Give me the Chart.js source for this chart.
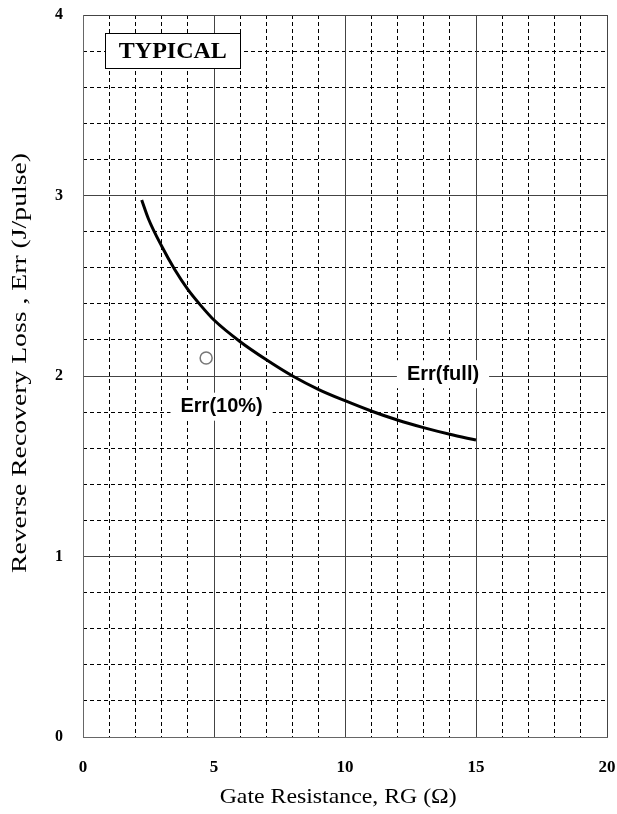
<!DOCTYPE html>
<html><head><meta charset="utf-8">
<script src="https://cdn.jsdelivr.net/npm/chart.js@4"></script>
<style>html,body{margin:0;padding:0;background:#fff}#wrap{width:617px;height:814px}</style>
</head><body><div id="wrap"><canvas id="c"></canvas></div>
<script>
const rgFull = [2.24, 2.5, 3, 3.5, 4, 4.5, 5, 6, 7, 8, 9, 10, 11, 12, 13, 14, 15];
const errFull = [2.975, 2.87, 2.72, 2.59, 2.48, 2.39, 2.31, 2.19, 2.09, 2.00, 1.925, 1.863, 1.806, 1.756, 1.714, 1.677, 1.645];
const rg10 = [4.7];
const err10 = [2.10];
const xTicks = [0, 5, 10, 15, 20];
const yTicks = [0, 1, 2, 3, 4];
const xTitle = 'Gate Resistance, RG (Ω)';
const yTitle = 'Reverse Recovery Loss , Err (J/pulse)';
const labels = [
  {text: 'Err(10%)', x: 5.29, y: 1.83},
  {text: 'Err(full)', x: 13.74, y: 2.01}
];
const boxLabel = {text: 'TYPICAL', x: 3.43, y: 3.80};

const textPlugin = {
  id: 'texts',
  afterDatasetsDraw(chart) {
    const {ctx, scales: {x, y}} = chart;
    ctx.save();
    ctx.font = 'bold 20px "Liberation Sans", Arial, sans-serif';
    ctx.textAlign = 'center'; ctx.textBaseline = 'middle';
    labels.forEach(l => {
      const px = x.getPixelForValue(l.x), py = y.getPixelForValue(l.y);
      const w = ctx.measureText(l.text).width + 20;
      ctx.fillStyle = '#fff';
      ctx.fillRect(px - w/2, py - 14, w, 28);
      ctx.fillStyle = '#000';
      ctx.fillText(l.text, px, py);
    });
    ctx.font = 'bold 24px "Liberation Serif", "Times New Roman", serif';
    const bx = x.getPixelForValue(boxLabel.x), by = y.getPixelForValue(boxLabel.y);
    const bw = 135, bh = 35;
    ctx.fillStyle = '#fff';
    ctx.fillRect(bx - bw/2, by - bh/2, bw, bh);
    ctx.strokeStyle = '#000'; ctx.lineWidth = 1;
    ctx.strokeRect(Math.round(bx - bw/2) + 0.5, Math.round(by - bh/2) - 0.5, bw, bh);
    ctx.fillStyle = '#000';
    ctx.fillText(boxLabel.text, bx, by + 1);
    ctx.restore();
  },
  afterDraw(chart) {
    const {ctx, chartArea} = chart;
    ctx.save();
    ctx.fillStyle = '#000';
    ctx.font = '21px "Liberation Serif", "Times New Roman", serif';
    ctx.textAlign = 'center'; ctx.textBaseline = 'alphabetic';
    // x title (reference lettering is horizontally stretched)
    let w = ctx.measureText(xTitle).width;
    let sx = 237 / w;
    ctx.save();
    ctx.translate(chartArea.left + (chartArea.right - chartArea.left) * 0.487, 803);
    ctx.scale(sx, 1);
    ctx.fillText(xTitle, 0, 0);
    ctx.restore();
    // y title
    w = ctx.measureText(yTitle).width;
    sx = 420 / w;
    ctx.save();
    ctx.translate(26, chartArea.top + (chartArea.bottom - chartArea.top) * 0.482);
    ctx.rotate(-Math.PI / 2);
    ctx.scale(sx, 1);
    ctx.fillText(yTitle, 0, 0);
    ctx.restore();
    ctx.restore();
  }
};

const serif = '"Liberation Serif", "Times New Roman", serif';
const noPad = s => { s.paddingLeft = 0; s.paddingRight = 0; s.paddingTop = 0; s.paddingBottom = 0; };

new Chart(document.getElementById('c'), {
  type: 'scatter',
  data: {
    datasets: [
      {
        label: 'Err(full)',
        data: rgFull.map((v, i) => ({x: v, y: errFull[i]})),
        showLine: true, borderColor: '#000', borderWidth: 3,
        pointRadius: 0, cubicInterpolationMode: 'monotone', order: 2
      },
      {
        label: 'Err(10%)',
        data: rg10.map((v, i) => ({x: v, y: err10[i]})),
        pointRadius: 6, borderColor: '#777', backgroundColor: '#fff', borderWidth: 1.5, order: 1
      }
    ]
  },
  options: {
    responsive: true, maintainAspectRatio: false, animation: false,
    layout: {padding: {top: 15, right: 10, left: 0, bottom: 0}},
    plugins: {legend: {display: false}, tooltip: {enabled: false}},
    scales: {
      xMinor: {
        type: 'linear', position: 'bottom', min: 0, max: 20,
        ticks: {display: false, stepSize: 1},
        grid: {drawTicks: false, color: c => (c.tick && c.tick.value % 5 === 0) ? 'rgba(0,0,0,0)' : '#000', lineWidth: 1},
        border: {display: false, dash: [4, 3]},
        afterFit: s => { s.height = 0; noPad(s); }
      },
      yMinor: {
        type: 'linear', position: 'left', min: 0, max: 4,
        ticks: {display: false, stepSize: 0.2},
        grid: {drawTicks: false, color: c => (c.tick && Math.abs(c.tick.value - Math.round(c.tick.value)) < 1e-6) ? 'rgba(0,0,0,0)' : '#000', lineWidth: 1},
        border: {display: false, dash: [4, 3]},
        afterFit: s => { s.width = 0; noPad(s); }
      },
      x: {
        type: 'linear', position: 'bottom', min: 0, max: 20,
        afterBuildTicks: s => { s.ticks = xTicks.map(v => ({value: v})); },
        ticks: {color: '#000', font: {family: serif, size: 17, weight: 'bold'}, padding: 20, maxRotation: 0},
        grid: {drawTicks: false, color: '#444', lineWidth: 1},
        border: {display: true, color: '#666', width: 1},
        title: {display: false, text: xTitle},
        afterFit: s => { s.height = 77; noPad(s); }
      },
      y: {
        type: 'linear', position: 'left', min: 0, max: 4,
        afterBuildTicks: s => { s.ticks = yTicks.map(v => ({value: v})); },
        ticks: {color: '#000', font: {family: serif, size: 16, weight: 'bold'}, padding: 20},
        grid: {drawTicks: false, color: '#444', lineWidth: 1},
        border: {display: true, color: '#666', width: 1},
        title: {display: false, text: yTitle},
        afterFit: s => { s.width = 83; noPad(s); }
      }
    }
  },
  plugins: [textPlugin]
});
</script></body></html>
